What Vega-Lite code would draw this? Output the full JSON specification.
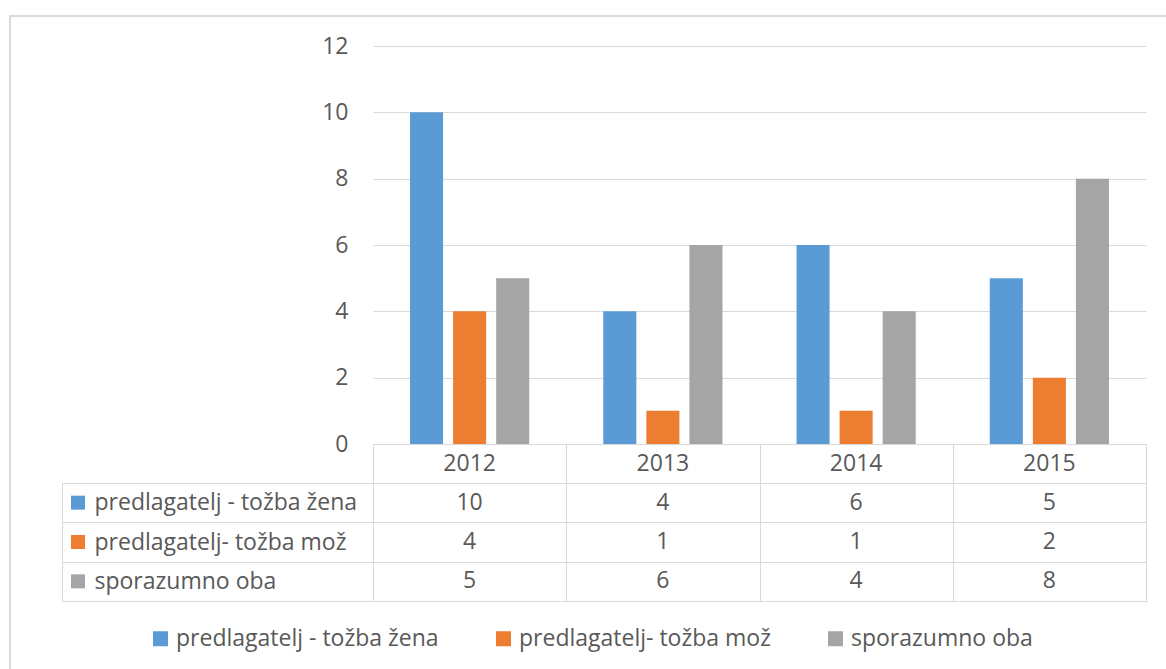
{
  "$schema": "https://vega.github.io/schema/vega-lite/v6.json",
  "padding": {"left": 8, "top": 15, "right": 0, "bottom": 0},
  "background": "white",
  "config": {
    "view": {"stroke": null},
    "font": "Open Sans",
    "legend": {
      "title": null,
      "symbolType": "square",
      "symbolSize": 225,
      "symbolStrokeWidth": 0,
      "labelFontSize": 23,
      "labelColor": "#595959",
      "labelFont": "Open Sans",
      "labelOffset": 4,
      "columnPadding": 53,
      "labelLimit": 500
    }
  },
  "datasets": {
    "d": [
      {"year": "2012", "series": "predlagatelj - tožba žena", "value": 10},
      {"year": "2012", "series": "predlagatelj- tožba mož", "value": 4},
      {"year": "2012", "series": "sporazumno oba", "value": 5},
      {"year": "2013", "series": "predlagatelj - tožba žena", "value": 4},
      {"year": "2013", "series": "predlagatelj- tožba mož", "value": 1},
      {"year": "2013", "series": "sporazumno oba", "value": 6},
      {"year": "2014", "series": "predlagatelj - tožba žena", "value": 6},
      {"year": "2014", "series": "predlagatelj- tožba mož", "value": 1},
      {"year": "2014", "series": "sporazumno oba", "value": 4},
      {"year": "2015", "series": "predlagatelj - tožba žena", "value": 5},
      {"year": "2015", "series": "predlagatelj- tožba mož", "value": 2},
      {"year": "2015", "series": "sporazumno oba", "value": 8}
    ],
    "years": [{"year": "2012"}, {"year": "2013"}, {"year": "2014"}, {"year": "2015"}],
    "series": [
      {"series": "predlagatelj - tožba žena"},
      {"series": "predlagatelj- tožba mož"},
      {"series": "sporazumno oba"}
    ],
    "one": [{}]
  },
  "columns": 6,
  "spacing": 0,
  "bounds": "flush",
  "align": "each",
  "concat": [
    {
      "width": 1, "height": 30, "data": {"name": "one"},
      "layer": [
        {"mark": {"type": "rule", "color": "#d9d9d9", "strokeWidth": 2}, "encoding": {"x": {"datum": 1, "type": "quantitative", "scale": {"domain": [0, 1]}, "axis": null}}},
        {"mark": {"type": "rule", "color": "#d9d9d9", "strokeWidth": 2}, "encoding": {"y": {"datum": 1, "type": "quantitative", "scale": {"domain": [0, 1]}, "axis": null}}}
      ]
    },
    {"width": 52, "height": 30, "data": {"name": "one"}, "mark": {"type": "rule", "color": "#d9d9d9", "strokeWidth": 2}, "encoding": {"y": {"datum": 1, "type": "quantitative", "scale": {"domain": [0, 1]}, "axis": null}}},
    {"width": 32, "height": 30, "data": {"name": "one"}, "mark": {"type": "rule", "color": "#d9d9d9", "strokeWidth": 2}, "encoding": {"y": {"datum": 1, "type": "quantitative", "scale": {"domain": [0, 1]}, "axis": null}}},
    {"width": 279, "height": 30, "data": {"name": "one"}, "mark": {"type": "rule", "color": "#d9d9d9", "strokeWidth": 2}, "encoding": {"y": {"datum": 1, "type": "quantitative", "scale": {"domain": [0, 1]}, "axis": null}}},
    {"width": 773, "height": 30, "data": {"name": "one"}, "mark": {"type": "rule", "color": "#d9d9d9", "strokeWidth": 2}, "encoding": {"y": {"datum": 1, "type": "quantitative", "scale": {"domain": [0, 1]}, "axis": null}}},
    {"width": 21, "height": 30, "data": {"name": "one"}, "mark": {"type": "rule", "color": "#d9d9d9", "strokeWidth": 2}, "encoding": {"y": {"datum": 1, "type": "quantitative", "scale": {"domain": [0, 1]}, "axis": null}}},

    {"width": 1, "height": 398, "data": {"name": "one"}, "mark": {"type": "rule", "color": "#d9d9d9", "strokeWidth": 2}, "encoding": {"x": {"datum": 1, "type": "quantitative", "scale": {"domain": [0, 1]}, "axis": null}}},
    {"width": 52, "height": 398, "data": {"name": "one"}, "mark": {"type": "point", "opacity": 0}, "encoding": {}},
    {"width": 32, "height": 398, "data": {"name": "one"}, "mark": {"type": "point", "opacity": 0}, "encoding": {}},
    {"width": 279, "height": 398, "data": {"name": "one"}, "mark": {"type": "point", "opacity": 0}, "encoding": {}},
    {
      "width": 773, "height": 398,
      "data": {"name": "d"},
      "mark": {"type": "bar"},
      "encoding": {
        "x": {"field": "year", "type": "nominal", "scale": {"paddingInner": 0, "paddingOuter": 0}, "axis": null},
        "xOffset": {"field": "series", "type": "nominal", "scale": {"domain": ["predlagatelj - tožba žena", "predlagatelj- tožba mož", "sporazumno oba"], "paddingInner": 0.2326, "paddingOuter": 0.86}},
        "y": {
          "field": "value", "type": "quantitative",
          "scale": {"domain": [0, 12], "nice": false},
          "axis": {"values": [0, 2, 4, 6, 8, 10, 12], "grid": true, "gridColor": "#d9d9d9", "domain": false, "ticks": false, "tickSize": 0, "labelPadding": 25, "labelFontSize": 23, "labelColor": "#595959", "labelFont": "Open Sans", "title": null}
        },
        "color": {
          "field": "series", "type": "nominal",
          "scale": {"domain": ["predlagatelj - tožba žena", "predlagatelj- tožba mož", "sporazumno oba"], "range": ["#5b9bd5", "#ed7d31", "#a5a5a5"]},
          "legend": {"orient": "none", "legendX": 140, "legendY": 611, "direction": "horizontal"}
        }
      }
    },
    {"width": 21, "height": 398, "data": {"name": "one"}, "mark": {"type": "point", "opacity": 0}, "encoding": {}},

    {"width": 1, "height": 39, "data": {"name": "one"}, "mark": {"type": "rule", "color": "#d9d9d9", "strokeWidth": 2}, "encoding": {"x": {"datum": 1, "type": "quantitative", "scale": {"domain": [0, 1]}, "axis": null}}},
    {"width": 52, "height": 39, "data": {"name": "one"}, "mark": {"type": "point", "opacity": 0}, "encoding": {}},
    {"width": 32, "height": 39, "data": {"name": "one"}, "mark": {"type": "point", "opacity": 0}, "encoding": {}},
    {"width": 279, "height": 39, "data": {"name": "one"}, "mark": {"type": "point", "opacity": 0}, "encoding": {}},
    {
      "width": 773, "height": 39,
      "view": {"stroke": "#d9d9d9"},
      "data": {"name": "years"},
      "mark": {"type": "text", "fontSize": 23, "color": "#595959", "font": "Open Sans"},
      "encoding": {
        "x": {"field": "year", "type": "nominal", "scale": {"paddingInner": 0, "paddingOuter": 0}, "axis": {"labels": false, "ticks": false, "domain": false, "grid": true, "gridColor": "#d9d9d9", "tickBand": "extent", "title": null}},
        "text": {"field": "year", "type": "nominal"}
      }
    },
    {"width": 21, "height": 39, "data": {"name": "one"}, "mark": {"type": "point", "opacity": 0}, "encoding": {}},

    {"width": 1, "height": 118, "data": {"name": "one"}, "mark": {"type": "rule", "color": "#d9d9d9", "strokeWidth": 2}, "encoding": {"x": {"datum": 1, "type": "quantitative", "scale": {"domain": [0, 1]}, "axis": null}}},
    {"width": 52, "height": 118, "data": {"name": "one"}, "mark": {"type": "point", "opacity": 0}, "encoding": {}},
    {
      "width": 32, "height": 118,
      "data": {"name": "series"},
      "mark": {"type": "point", "shape": "square", "filled": true, "size": 196, "opacity": 1, "strokeWidth": 0},
      "encoding": {
        "y": {
          "field": "series", "type": "nominal",
          "scale": {"domain": ["predlagatelj - tožba žena", "predlagatelj- tožba mož", "sporazumno oba"], "paddingInner": 0, "paddingOuter": 0},
          "axis": {"labels": false, "ticks": false, "tickSize": 0, "domain": true, "domainColor": "#d9d9d9", "grid": true, "gridColor": "#d9d9d9", "tickBand": "extent", "title": null}
        },
        "color": {
          "field": "series", "type": "nominal",
          "scale": {"domain": ["predlagatelj - tožba žena", "predlagatelj- tožba mož", "sporazumno oba"], "range": ["#5b9bd5", "#ed7d31", "#a5a5a5"]}
        }
      }
    },
    {
      "width": 279, "height": 118,
      "data": {"name": "series"},
      "mark": {"type": "point", "opacity": 0},
      "encoding": {
        "y": {
          "field": "series", "type": "nominal",
          "scale": {"domain": ["predlagatelj - tožba žena", "predlagatelj- tožba mož", "sporazumno oba"], "paddingInner": 0, "paddingOuter": 0},
          "axis": {"labelAlign": "left", "labelPadding": 0, "tickSize": 0, "ticks": false, "domain": false, "grid": true, "gridColor": "#d9d9d9", "tickBand": "extent", "labelFontSize": 23, "labelColor": "#595959", "labelFont": "Open Sans", "labelLimit": 500, "title": null}
        }
      }
    },
    {
      "width": 773, "height": 118,
      "view": {"stroke": "#d9d9d9"},
      "data": {"name": "d"},
      "mark": {"type": "text", "fontSize": 23, "color": "#595959", "font": "Open Sans"},
      "encoding": {
        "x": {"field": "year", "type": "nominal", "scale": {"paddingInner": 0, "paddingOuter": 0}, "axis": {"labels": false, "ticks": false, "domain": false, "grid": true, "gridColor": "#d9d9d9", "tickBand": "extent", "title": null}},
        "y": {"field": "series", "type": "nominal", "scale": {"domain": ["predlagatelj - tožba žena", "predlagatelj- tožba mož", "sporazumno oba"], "paddingInner": 0, "paddingOuter": 0}, "axis": {"labels": false, "ticks": false, "domain": false, "grid": true, "gridColor": "#d9d9d9", "tickBand": "extent", "title": null}},
        "text": {"field": "value", "type": "quantitative"}
      }
    },
    {"width": 21, "height": 118, "data": {"name": "one"}, "mark": {"type": "point", "opacity": 0}, "encoding": {}},

    {"width": 1, "height": 69, "data": {"name": "one"}, "mark": {"type": "rule", "color": "#d9d9d9", "strokeWidth": 2}, "encoding": {"x": {"datum": 1, "type": "quantitative", "scale": {"domain": [0, 1]}, "axis": null}}},
    {"width": 52, "height": 69, "data": {"name": "one"}, "mark": {"type": "point", "opacity": 0}, "encoding": {}},
    {"width": 32, "height": 69, "data": {"name": "one"}, "mark": {"type": "point", "opacity": 0}, "encoding": {}},
    {"width": 279, "height": 69, "data": {"name": "one"}, "mark": {"type": "point", "opacity": 0}, "encoding": {}},
    {"width": 773, "height": 69, "data": {"name": "one"}, "mark": {"type": "point", "opacity": 0}, "encoding": {}},
    {"width": 21, "height": 69, "data": {"name": "one"}, "mark": {"type": "point", "opacity": 0}, "encoding": {}}
  ]
}
